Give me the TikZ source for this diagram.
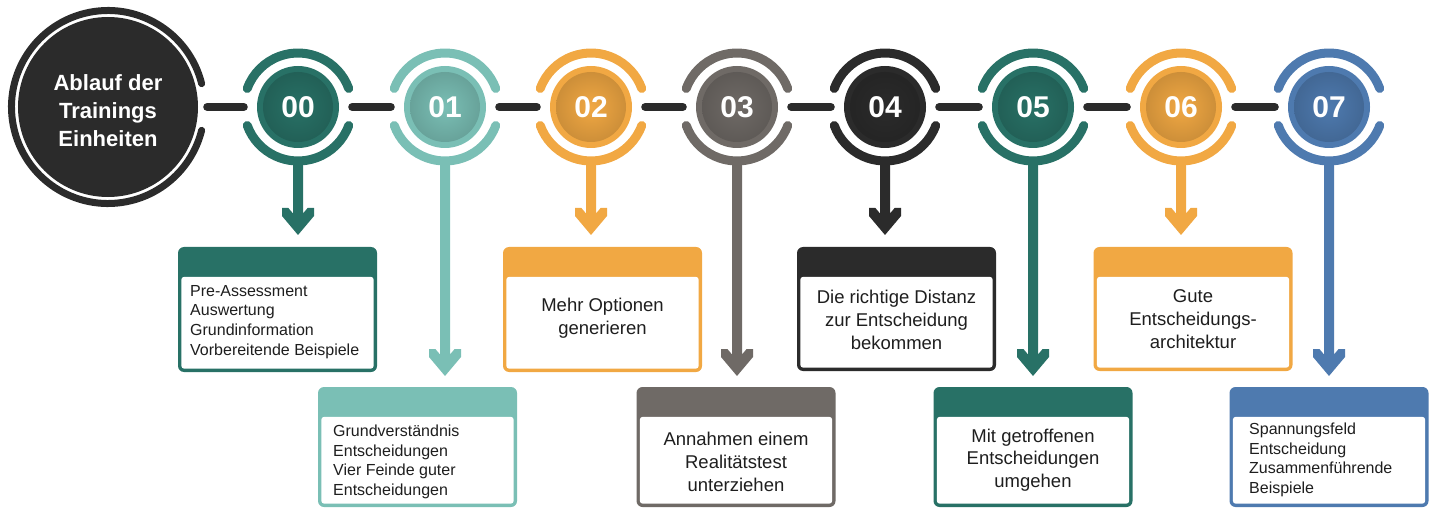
\documentclass[tikz,border=0pt]{standalone}
\usepackage{fontspec}
\setmainfont{Liberation Sans}
\usetikzlibrary{calc}
\definecolor{cdark}{HTML}{2B2B2B}
\definecolor{cteal}{HTML}{287166}
\definecolor{clteal}{HTML}{7ABFB5}
\definecolor{corange}{HTML}{F1A843}
\definecolor{cgray}{HTML}{6F6A66}
\definecolor{cblue}{HTML}{4E7AAF}
\definecolor{ctext}{HTML}{1E1E1E}
\tikzset{
  ringnode/.style={circle, minimum size=117bp, inner sep=0pt},
  numlabel/.style={text=white, font=\bfseries\fontsize{30bp}{30bp}\selectfont, inner sep=0pt},
  conn/.style={draw=cdark, line width=8bp, line cap=round},
  ringarc/.style={line width=9bp, line cap=round},
  boxnode/.style={rectangle, rounded corners=6bp, minimum width=199bp, inner sep=0pt},
  listtext/.style={text=ctext, align=left, font=\fontsize{16bp}{19.7bp}\selectfont, inner sep=0pt, anchor=west},
  ctrtext/.style={text=ctext, align=center, font=\fontsize{18.5bp}{22.7bp}\selectfont, inner sep=0pt},
}
\begin{document}
\begin{tikzpicture}[x=1bp,y=-1bp]
\useasboundingbox (0,0) rectangle (1435,509);

% title circle
\node[circle, minimum size=200bp, inner sep=0pt] (title) at (108,107) {};
\fill[cdark] (title.center) circle[radius=90bp];
\draw[cdark, line width=7bp, line cap=round] (title.center) ++(14:96.5bp) arc[start angle=14, end angle=346, radius=96.5bp];
\node[text=white, align=center, font=\bfseries\fontsize{22bp}{28bp}\selectfont] (titletext) at (108,111) {Ablauf der\\Trainings\\Einheiten};

% numbered circles
\foreach \i/\x/\c in {0/298/cteal, 1/445/clteal, 2/591/corange, 3/737/cgray, 4/885/cdark, 5/1033/cteal, 6/1181/corange, 7/1329/cblue} {
  \node[ringnode] (n\i) at (\x,107) {};
  \draw[ringarc, \c] (n\i.center) ++(20:54bp) arc[start angle=20, end angle=160, radius=54bp];
  \draw[ringarc, \c] (n\i.center) ++(200:54bp) arc[start angle=200, end angle=340, radius=54bp];
  \fill[\c] (n\i.center) circle[radius=41bp];
  \shade[inner color=\c, outer color=\c!85!black] (n\i.center) circle[radius=35bp];
  \node[numlabel] (l\i) at (n\i.center) {0\i};
}

% horizontal connectors
\draw[conn] ($(title.east)+(-1bp,0)$) -- ($(n0.west)+(4.5bp,0)$);
\foreach \i/\j in {0/1,1/2,2/3,3/4,4/5,5/6,6/7} {
  \draw[conn] ($(n\i.east)+(-4.5bp,0)$) -- ($(n\j.west)+(4.5bp,0)$);
}

% boxes
\foreach \i/\x/\y/\h/\c in {0/277.5/309.5/125/cteal, 1/417.5/447/120/clteal, 2/602.5/309.5/125/corange, 3/736/447/120/cgray, 4/896.5/309/124/cdark, 5/1033/447/120/cteal, 6/1193/309/124/corange, 7/1329/447/120/cblue} {
  \node[boxnode, fill=\c, minimum height=\h bp] (b\i) at (\x,\y) {};
  \fill[white, rounded corners=3bp] ($(b\i.south west)+(3.5bp,3.5bp)$) rectangle ($(b\i.north east)+(-3.5bp,-30bp)$);
}

% arrows from circles to boxes
\foreach \i/\c/\t in {0/cteal/235, 1/clteal/376, 2/corange/235, 3/cgray/376, 4/cdark/235, 5/cteal/376, 6/corange/235, 7/cblue/376} {
  \coordinate (t\i) at (n\i.center |- 0,\t);
  \fill[\c] ($(n\i.south)+(-5bp,4bp)$) -- ($(t\i)+(-5bp,21.5bp)$) -- ($(t\i)+(-9.6bp,27bp)$) -- ($(t\i)+(-16bp,27bp)$) -- ($(t\i)+(-16bp,19bp)$) -- (t\i) -- ($(t\i)+(16bp,19bp)$) -- ($(t\i)+(16bp,27bp)$) -- ($(t\i)+(9.6bp,27bp)$) -- ($(t\i)+(5bp,21.5bp)$) -- ($(n\i.south)+(5bp,4bp)$) -- cycle;
}

% box texts
\node[listtext] (tx0) at (190,322) {Pre-Assessment\\Auswertung\\Grundinformation\\Vorbereitende Beispiele};
\node[listtext] (tx1) at (333,462) {Grundverständnis\\Entscheidungen\\Vier Feinde guter\\Entscheidungen};
\node[ctrtext] (tx2) at (602.5,318) {Mehr Optionen\\generieren};
\node[ctrtext] (tx3) at (736,462) {Annahmen einem\\Realitätstest\\unterziehen};
\node[ctrtext] (tx4) at (896.5,320) {Die richtige Distanz\\zur Entscheidung\\bekommen};
\node[ctrtext] (tx5) at (1033,460) {Mit getroffenen\\Entscheidungen\\umgehen};
\node[ctrtext] (tx6) at (1193,319) {Gute\\Entscheidungs-\\architektur};
\node[listtext] (tx7) at (1249,460) {Spannungsfeld\\Entscheidung\\Zusammenführende\\Beispiele};
\end{tikzpicture}
\end{document}
